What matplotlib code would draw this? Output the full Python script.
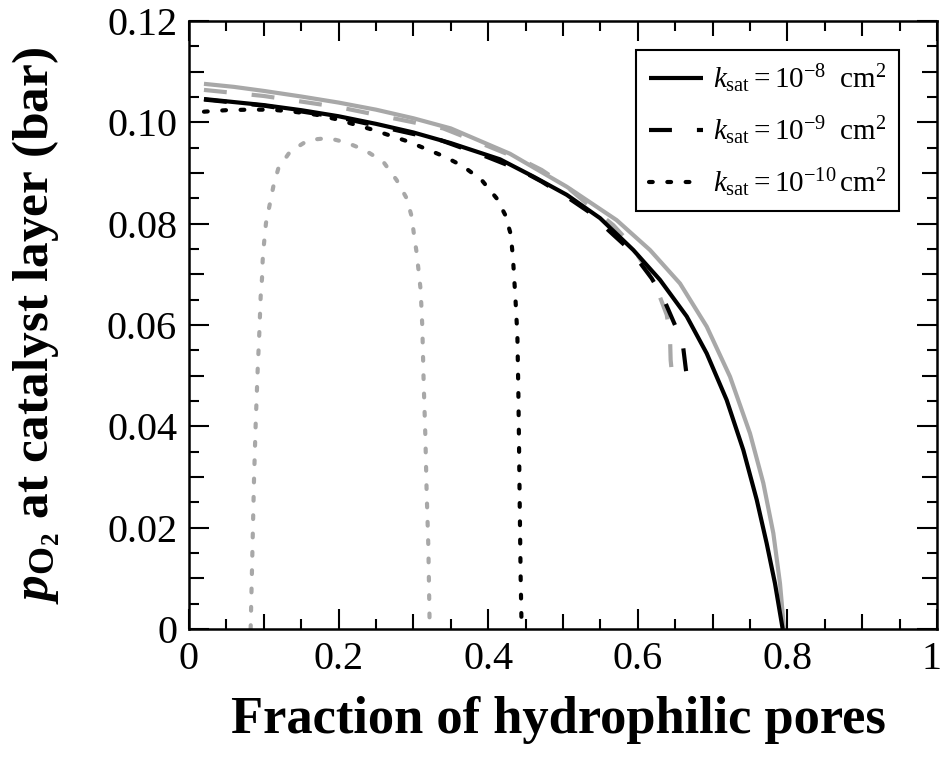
import matplotlib
matplotlib.use("Agg")
import matplotlib.pyplot as plt
import matplotlib.transforms as mtransforms
from matplotlib.ticker import MultipleLocator, FuncFormatter

# ---------------- data ----------------
x_solid_k8 = [0.02, 0.06, 0.1, 0.15, 0.2, 0.25, 0.3, 0.35, 0.4158, 0.4603, 0.5049, 0.5495, 0.594,
              0.6297, 0.6654, 0.6921, 0.7188, 0.7411, 0.759, 0.7723, 0.7834, 0.7937]
y_solid_k8 = [0.1046, 0.1040, 0.1034, 0.1024, 0.1012, 0.0997, 0.0980, 0.0959, 0.0927, 0.0893, 0.0857, 0.0811, 0.0748,
              0.0689, 0.0617, 0.0544, 0.0452, 0.0353, 0.0255, 0.0169, 0.0090, 0.0]

x_grey_k8 = [0.02, 0.06, 0.1, 0.15, 0.2, 0.25, 0.3, 0.35, 0.4291, 0.5049, 0.5717, 0.6163, 0.6564,
             0.6921, 0.7233, 0.75, 0.7678, 0.7812, 0.7901, 0.7955]
y_grey_k8 = [0.1076, 0.1070, 0.1062, 0.1051, 0.1039, 0.1025, 0.1008, 0.0988, 0.0938, 0.0873, 0.0807, 0.0748, 0.0682,
             0.0597, 0.0498, 0.0386, 0.0288, 0.0189, 0.0090, 0.0]

x_dash_k9 = [0.02, 0.1, 0.2, 0.3, 0.3266, 0.398, 0.4425, 0.4715, 0.5049, 0.5339, 0.5673, 0.5918,
             0.6186, 0.6341, 0.6497, 0.66, 0.6644, 0.6689]
y_dash_k9 = [0.1045, 0.1033, 0.1010, 0.0977, 0.0970, 0.0932, 0.0906, 0.0883, 0.0853, 0.0824, 0.0778, 0.0745,
             0.0692, 0.0653, 0.0600, 0.0564, 0.0511, 0.0473]

x_grey_k9 = [0.02, 0.1, 0.2, 0.3, 0.34, 0.398, 0.4447, 0.4715, 0.5049, 0.5316, 0.5673, 0.5896,
             0.6141, 0.6253, 0.6387, 0.643, 0.6439, 0.6466]
y_grey_k9 = [0.1064, 0.1052, 0.1030, 0.1000, 0.0988, 0.0954, 0.0926, 0.0906, 0.0873, 0.0840, 0.0797, 0.0761,
             0.0705, 0.0672, 0.0620, 0.0580, 0.0531, 0.0490]

x_dot_k10 = [0.02, 0.05, 0.08, 0.11, 0.14, 0.17, 0.1974, 0.2442, 0.2932, 0.3422, 0.3667, 0.3913, 0.4113,
             0.4225, 0.4300, 0.4330, 0.4365, 0.4390, 0.4403, 0.4412, 0.4421, 0.4434, 0.4447]
y_dot_k10 = [0.1021, 0.1024, 0.1025, 0.1025, 0.1021, 0.1015, 0.1006, 0.0986, 0.0962, 0.0932, 0.0913, 0.0886, 0.0850,
             0.0818, 0.0780, 0.0735, 0.0650, 0.0580, 0.0470, 0.0365, 0.0250, 0.0100, 0.0]

x_grey_k10 = [0.0824, 0.0847, 0.0869, 0.0891, 0.0918, 0.0940, 0.0958, 0.0976, 0.0985, 0.1003, 0.1029, 0.1074,
              0.1127, 0.1194, 0.1350, 0.1595, 0.1863, 0.2108, 0.2353, 0.2598, 0.2776, 0.2910, 0.2977, 0.3008,
              0.3044, 0.3097, 0.3119, 0.3137, 0.3160, 0.3177, 0.3200, 0.3218]
y_grey_k10 = [0.0, 0.0149, 0.0294, 0.0403, 0.0511, 0.0584, 0.0656, 0.0692, 0.0728, 0.0761, 0.0801, 0.0834,
              0.0873, 0.0909, 0.0942, 0.0965, 0.0969, 0.0960, 0.0945, 0.0922, 0.0886, 0.0850, 0.0814, 0.0778,
              0.0742, 0.0669, 0.0597, 0.0488, 0.0380, 0.0271, 0.0162, 0.0]

legend_labels = [r'$k_{\mathrm{sat}} = 10^{-8}\ \ \mathrm{cm}^{2}$',
                 r'$k_{\mathrm{sat}} = 10^{-9}\ \ \mathrm{cm}^{2}$',
                 r'$k_{\mathrm{sat}} = 10^{-10}\,\mathrm{cm}^{2}$']
x_label = 'Fraction of hydrophilic pores'
y_label = r'$\mathbfit{p}_{\mathbf{O}_{\mathbf{2}}}$ at catalyst layer (bar)'

# ---------------- style ----------------
plt.rcParams['font.family'] = ['Liberation Serif', 'DejaVu Serif']
plt.rcParams['mathtext.fontset'] = 'custom'
plt.rcParams['mathtext.rm'] = 'Liberation Serif'
plt.rcParams['mathtext.it'] = 'Liberation Serif:italic'
plt.rcParams['mathtext.bf'] = 'Liberation Serif:bold'
try:
    plt.rcParams['mathtext.bfit'] = 'Liberation Serif:bold:italic'
except KeyError:
    pass

GREY = '#a8a8a8'
LW = 3.0
DASH = (0, (5.5, 6.0))
DOT = (0, (0.9, 3.5))

fig = plt.figure(figsize=(9.43, 7.59), dpi=100)
ax = fig.add_axes([189 / 943, 1 - 629 / 759, (937 - 189) / 943, (629 - 21) / 759])

ax.plot(x_grey_k8, y_grey_k8, color=GREY, lw=LW, solid_capstyle='butt', solid_joinstyle='round', zorder=2)
ax.plot(x_grey_k9, y_grey_k9, color=GREY, lw=LW, ls=DASH, zorder=2)
ax.plot(x_grey_k10, y_grey_k10, color=GREY, lw=LW, ls=DOT, dash_capstyle='round', zorder=2)
l1, = ax.plot(x_solid_k8, y_solid_k8, color='black', lw=LW, solid_capstyle='butt', solid_joinstyle='round', zorder=3)
l2, = ax.plot(x_dash_k9, y_dash_k9, color='black', lw=LW, ls=DASH, zorder=3)
l3, = ax.plot(x_dot_k10, y_dot_k10, color='black', lw=LW, ls=DOT, dash_capstyle='round', zorder=3)

ax.set_xlim(0, 1)
ax.set_ylim(0, 0.12)

def fmt_x(v, pos):
    if abs(v) < 1e-9:
        return '0'
    if abs(v - 1) < 1e-9:
        return '1'
    return '%.1f' % v

def fmt_y(v, pos):
    if abs(v) < 1e-12:
        return '0'
    return '%.2f' % v

ax.xaxis.set_major_locator(MultipleLocator(0.2))
ax.xaxis.set_minor_locator(MultipleLocator(0.05))
ax.yaxis.set_major_locator(MultipleLocator(0.02))
ax.yaxis.set_minor_locator(MultipleLocator(0.005))
ax.xaxis.set_major_formatter(FuncFormatter(fmt_x))
ax.yaxis.set_major_formatter(FuncFormatter(fmt_y))

ax.tick_params(which='both', direction='in', top=True, right=True, width=1.5, colors='black')
ax.tick_params(which='major', length=14.4, labelsize=29, pad=8.5)
ax.tick_params(which='minor', length=7.2)
for s in ax.spines.values():
    s.set_linewidth(1.8)

fig.canvas.draw()
# medium-length ticks at 0.1 (x) and 0.01 (y)
for axis, step in ((ax.xaxis, 0.1), (ax.yaxis, 0.01)):
    locs = axis.get_minorticklocs()
    ticks = axis.get_minor_ticks(len(locs))
    for t, loc in zip(ticks, locs):
        r = loc / step
        if abs(r - round(r)) < 1e-6:
            t.tick1line.set_markersize(10.8)
            t.tick2line.set_markersize(10.8)

# nudge the last x tick label ("1") slightly left so it stays inside the figure
xlocs = ax.xaxis.get_majorticklocs()
xticks = ax.xaxis.get_major_ticks(len(xlocs))
for t, loc in zip(xticks, xlocs):
    if abs(loc - 1) < 1e-9:
        t.label1.set_transform(t.label1.get_transform() +
                               mtransforms.ScaledTranslation(-6 / 100, 0, fig.dpi_scale_trans))

ax.set_xlabel(x_label, fontsize=37.8, fontweight='bold')
ax.set_ylabel(y_label, fontsize=37, fontweight='bold')
ax.xaxis.set_label_coords(0.494, -0.11)
ax.yaxis.set_label_coords(-0.17, 0.5)

leg = ax.legend([l1, l2, l3], legend_labels, loc='upper right',
                bbox_to_anchor=(0.949, 0.952), borderaxespad=0,
                fontsize=21, handlelength=1.85, handletextpad=0.35,
                labelspacing=0.66, borderpad=0.42, fancybox=False,
                framealpha=1, edgecolor='black')
leg.get_frame().set_linewidth(1.5)

fig.savefig('out.png', dpi=100)
